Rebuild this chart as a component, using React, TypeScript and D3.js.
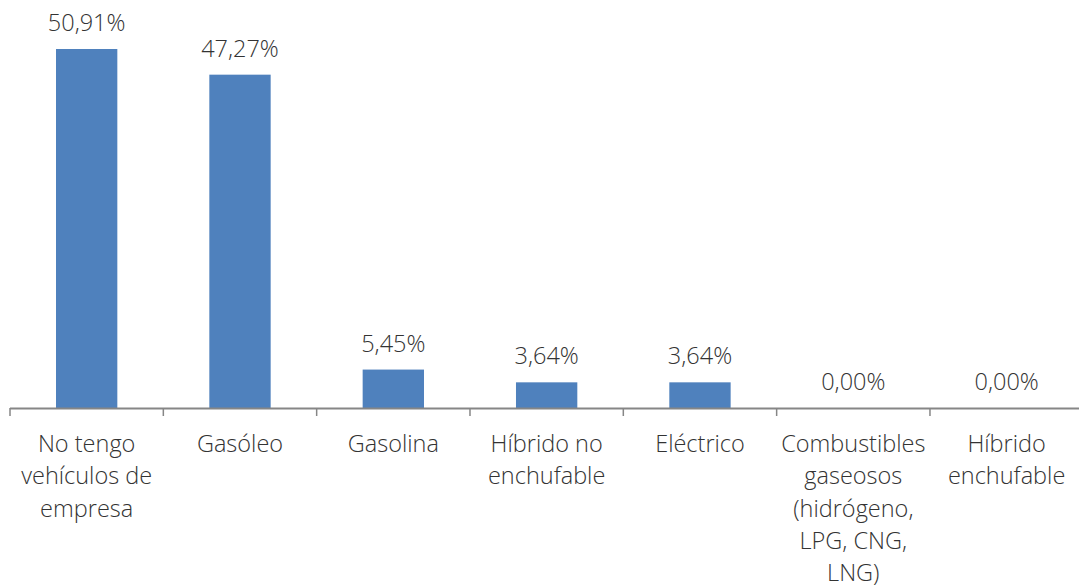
import React from "react";
import * as d3 from "d3";

const categories = [
  "No tengo vehículos de empresa",
  "Gasóleo",
  "Gasolina",
  "Híbrido no enchufable",
  "Eléctrico",
  "Combustibles gaseosos (hidrógeno, LPG, CNG, LNG)",
  "Híbrido enchufable",
];
const categoryLines = [
  ["No tengo", "vehículos de", "empresa"],
  ["Gasóleo"],
  ["Gasolina"],
  ["Híbrido no", "enchufable"],
  ["Eléctrico"],
  ["Combustibles", "gaseosos", "(hidrógeno,", "LPG, CNG,", "LNG)"],
  ["Híbrido", "enchufable"],
];
const values = [50.91, 47.27, 5.45, 3.64, 3.64, 0.0, 0.0];
const valueLabels = ["50,91%", "47,27%", "5,45%", "3,64%", "3,64%", "0,00%", "0,00%"];

const W = 1079;
const H = 588;
const left = 10;
const right = 1083.3;
const baseY = 408;

export default function App() {
  const x = d3.scaleBand<string>().domain(categories).range([left, right]).padding(0);
  const y = d3.scaleLinear().domain([0, 50.91]).range([baseY, 49]);
  const bw = x.bandwidth() * 0.4;
  const font = "'Open Sans', 'Noto Sans', sans-serif";
  const fs = 23.5;
  return (
    <svg
      width={W}
      height={H}
      style={{ position: "absolute", left: 0, top: 0, background: "#fff" }}
      fontFamily={font}
    >
      {categories.map((c, i) => {
        const cx = (x(c) as number) + x.bandwidth() / 2;
        const top = y(values[i]);
        return (
          <g key={c}>
            {values[i] > 0 && (
              <rect
                x={cx - bw / 2}
                y={top}
                width={bw}
                height={baseY - top}
                fill="#4F81BD"
              />
            )}
            <text
              x={cx}
              y={top - 18}
              textAnchor="middle"
              fontSize={fs}
              fontWeight={300}
              fill="#333333"
            >
              {valueLabels[i]}
            </text>
            {categoryLines[i].map((ln, j) => (
              <text
                key={j}
                x={cx}
                y={452 + j * 32.3}
                textAnchor="middle"
                fontSize={fs}
                fontWeight={300}
                fill="#333333"
              >
                {ln}
              </text>
            ))}
          </g>
        );
      })}
      <line x1={left} x2={W} y1={baseY + 0.5} y2={baseY + 0.5} stroke="#868686" strokeWidth={2} />
      {[...categories.map((c) => x(c) as number), right].map((t, i) => (
        <line key={i} x1={t} x2={t} y1={baseY} y2={baseY + 8} stroke="#868686" strokeWidth={1.5} />
      ))}
    </svg>
  );
}
